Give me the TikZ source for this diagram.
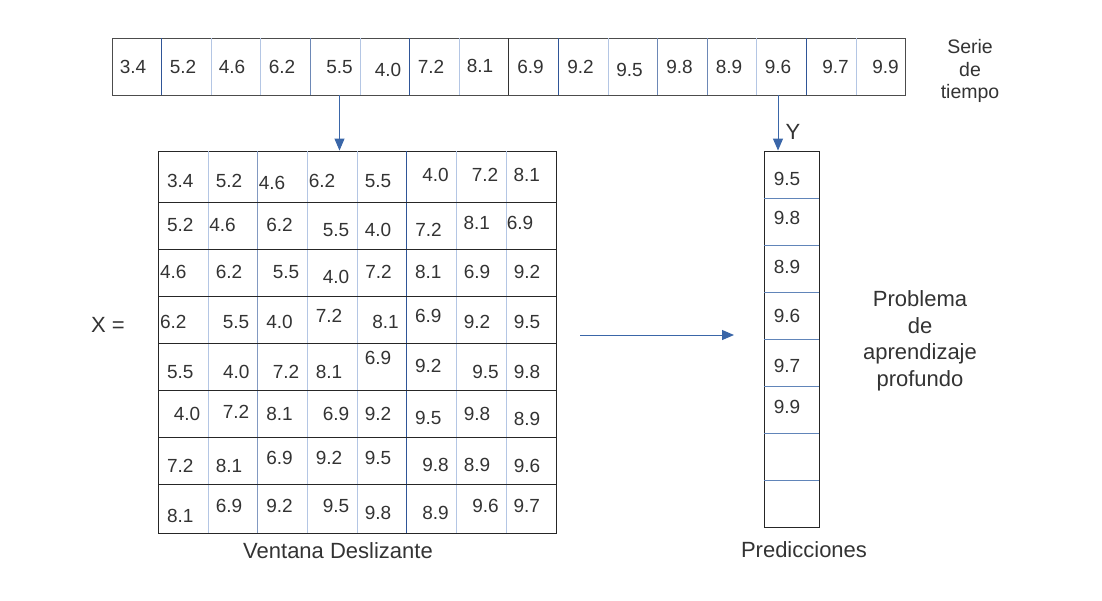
\documentclass[tikz,border=0pt]{standalone}
\usepackage{fontspec}
\setmainfont{Liberation Sans}
\usetikzlibrary{arrows.meta, positioning}
\definecolor{lineblue}{HTML}{3A66A8}
\definecolor{paleblue}{HTML}{B4C6E4}
\definecolor{darkblue}{HTML}{2F5597}
\definecolor{txtgray}{HTML}{333333}
\tikzset{
  num/.style={font=\fontsize{19}{23}\selectfont, text=txtgray, inner sep=0pt},
  lbl/.style={font=\fontsize{22}{26.5}\selectfont, text=txtgray, align=center},
  arr/.style={-{Triangle[width=10pt,length=12pt]}, lineblue, line width=1pt},
  box/.style={draw=#1, line width=0.9pt, inner sep=0pt},
}

\begin{document}
\begin{tikzpicture}[x=1pt, y=-1pt]
\useasboundingbox (0,0) rectangle (1102,600);

% serie de tiempo
\node[box=black!70, minimum width=793.6pt, minimum height=57pt] (serie) at (508.8,66.5) {};
\foreach \i/\c in {1/darkblue,2/paleblue,3/paleblue,4/darkblue!70,5/paleblue,6/darkblue,7/paleblue,8/black!80,
                   9/darkblue,10/paleblue,11/darkblue!70,12/darkblue!70,13/paleblue,14/darkblue,15/paleblue}
  \draw[\c, line width=0.9pt] (112+49.6*\i,38) -- (112+49.6*\i,95);
\foreach \v/\x/\y [count=\i] in {3.4/133/67,5.2/183/67,4.6/232/67,6.2/282/67,5.5/339.5/67,4.0/388/69.5,
                                 7.2/431/67,8.1/480/65.5,6.9/530.5/67,9.2/580.5/67,9.5/629.5/69.5,9.8/679.5/67,
                                 8.9/729/67,9.6/778/67,9.7/835.5/67,9.9/885.5/67}
  \node[num] (s\i) at (\x,\y) {\v};
\node[lbl, font=\fontsize{19.5}{22.5}\selectfont] (slab) at (970,71) {Serie\\de\\tiempo};

% ventana deslizante
\node[box=black!85, minimum width=398pt, minimum height=382pt] (win) at (357,342) {};
\foreach \x/\k in {208/paleblue,257/darkblue!60,307/paleblue,357/paleblue,406/darkblue,456/paleblue,506/paleblue}
  \draw[\k, line width=0.9pt] (\x,151) -- (\x,533);
\foreach \y in {202,249,296,343,390,437,484}
  \draw[black!85, line width=0.9pt] (158,\y) -- (556,\y);
\foreach \v/\x/\y [count=\i] in {
    3.4/180.3/181,5.2/229/181,4.6/272/183,6.2/322/181,5.5/378/181,4.0/435.5/174.5,7.2/485/174.5,8.1/526.7/174.5,
    5.2/180.3/224.5,4.6/222.5/224.5,6.2/279.5/224.5,5.5/336/230,4.0/378/230,7.2/428.5/230,8.1/476.7/223,6.9/520/223,
    4.6/173.3/272,6.2/229/272,5.5/286/272,4.0/336/276.7,7.2/378.5/272,8.1/428.3/272,6.9/477/272,9.2/527/272,
    6.2/173.3/322,5.5/236/322,4.0/279.5/322,7.2/329/316,8.1/385.5/322,6.9/428.3/316,9.2/477/322,9.5/527/322,
    5.5/180.3/372,4.0/236.3/372,7.2/286/372,8.1/329/372,6.9/378/357.8,9.2/428.3/365.5,9.5/485.5/372,9.8/527/372,
    4.0/187/413.7,7.2/236/412.2,8.1/279.5/413.7,6.9/336/413.7,9.2/378/413.7,9.5/428.3/417.8,9.8/477/413.7,8.9/527/418.8,
    7.2/180.3/465.5,8.1/229/465.5,6.9/279.5/457.8,9.2/329/457.8,9.5/378/457.8,9.8/435.5/464.5,8.9/477/464.5,9.6/527/466.2,
    8.1/180.3/516.2,6.9/229/506.2,9.2/279.5/506.2,9.5/336/506.2,9.8/378/512.8,8.9/435.5/512.8,9.6/485.5/505.5,9.7/526.7/505.5}
  \node[num] (m\i) at (\x,\y) {\v};
\node[lbl] (xeq) at (108,325) {X =};
\node[lbl] (wlab) at (338,551) {Ventana Deslizante};

% predicciones
\node[box=black!85, minimum width=55pt, minimum height=376pt] (ycol) at (791.5,339) {};
\foreach \y in {198.7,245.3,292.3,339.3,386,433,480}
  \draw[lineblue!80, line width=0.9pt] (764,\y) -- (819,\y);
\foreach \v/\y [count=\r] in {9.5/179.2,9.8/217.5,8.9/266.7,9.6/315.8,9.7/365.5,9.9/406.7}
  \node[num] (y\r) at (787,\y) {\v};
\node[lbl] (ylab) at (793,132) {Y};
\node[lbl] (plab) at (804,550) {Predicciones};
\node[lbl] (prob) at (920,341) {Problema\\de\\aprendizaje\\profundo};

% flechas
\coordinate (pin) at (580,335);
\coordinate (pout) at (734,335);
\draw[arr] (s5 |- serie.south) -- (s5 |- win.north);
\draw[arr] (s14 |- serie.south) -- (s14 |- ycol.north);
\draw[arr] (pin) -- (pout);
\end{tikzpicture}
\end{document}
